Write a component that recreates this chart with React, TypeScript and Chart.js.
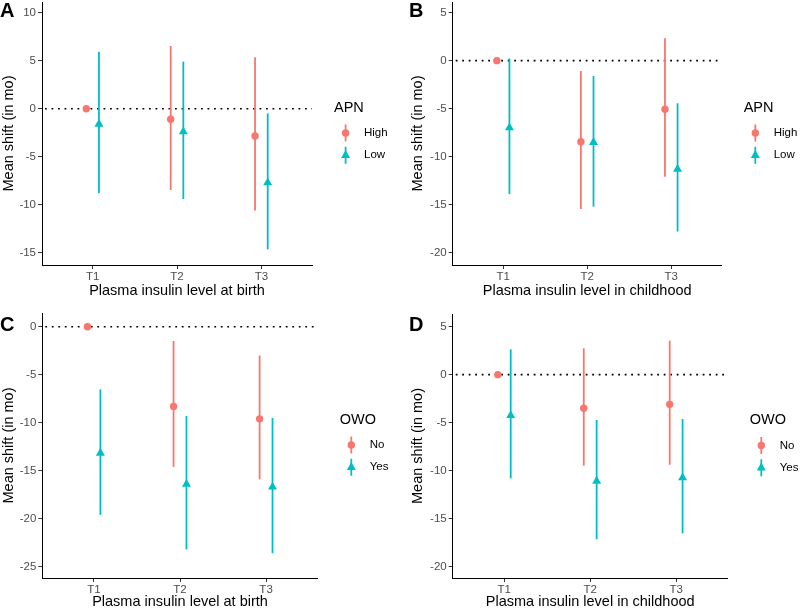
import React, { useEffect, useRef } from 'react';
import { Chart, registerables } from 'chart.js';

Chart.register(...registerables);

const FONT = "'Liberation Sans', Arial, Helvetica, sans-serif";

const categories = ['T1', 'T2', 'T3'];
const xTickValues = [1, 2, 3];
const dodge = [-0.075, 0.075];
const groupColors = ['#F8766D', '#00BFC4'];
const groupShapes = ['circle', 'triangle'];
const groupRadius = [3.7, 5.2];

// Panel A — APN, insulin at birth
const aGroups = ['High', 'Low'];
const aHighEst = [0, -1.1, -2.85];
const aHighLo = [0, -8.47, -10.6];
const aHighHi = [0, 6.53, 5.35];
const aLowEst = [-1.6, -2.4, -7.7];
const aLowLo = [-8.82, -9.41, -14.65];
const aLowHi = [5.94, 4.9, -0.49];
const aYTicks = [-15, -10, -5, 0, 5, 10];

// Panel B — APN, insulin in childhood
const bGroups = ['High', 'Low'];
const bHighEst = [0, -8.44, -5.05];
const bHighLo = [0, -15.45, -12.1];
const bHighHi = [0, -1.08, 2.33];
const bLowEst = [-6.98, -8.5, -11.3];
const bLowLo = [-13.9, -15.2, -17.8];
const bLowHi = [0.24, -1.6, -4.44];
const bYTicks = [-20, -15, -10, -5, 0, 5];

// Panel C — OWO, insulin at birth
const cGroups = ['No', 'Yes'];
const cNoEst = [0, -8.3, -9.6];
const cNoLo = [0, -14.6, -15.9];
const cNoHi = [0, -1.49, -3.0];
const cYesEst = [-13.16, -16.4, -16.7];
const cYesLo = [-19.6, -23.2, -23.6];
const cYesHi = [-6.53, -9.3, -9.5];
const cYTicks = [-25, -20, -15, -10, -5, 0];

// Panel D — OWO, insulin in childhood
const dGroups = ['No', 'Yes'];
const dNoEst = [0, -3.5, -3.09];
const dNoLo = [0, -9.48, -9.38];
const dNoHi = [0, 2.74, 3.54];
const dYesEst = [-4.24, -11.08, -10.73];
const dYesLo = [-10.8, -17.15, -16.53];
const dYesHi = [2.64, -4.72, -4.62];
const dYTicks = [-20, -15, -10, -5, 0, 5];

const yTitle = 'Mean shift (in mo)';

type Spec = {
  label: string;
  left: number; top: number; width: number; height: number;
  areaLeft: number; areaTop: number; areaRight: number; areaBottom: number;
  yMin: number; yMax: number; yTicks: number[];
  xTitle: string; legendTitle: string; groups: string[];
  est: number[][]; lo: number[][]; hi: number[][];
  labelY: number;
};

const panels: Spec[] = [
  {
    label: 'A', left: 0, top: 0, width: 400, height: 300,
    areaLeft: 42, areaTop: 2, areaRight: 312, areaBottom: 265,
    yMin: -16.28, yMax: 11.11, yTicks: aYTicks,
    xTitle: 'Plasma insulin level at birth', legendTitle: 'APN', groups: aGroups,
    est: [aHighEst, aLowEst], lo: [aHighLo, aLowLo], hi: [aHighHi, aLowHi], labelY: 17,
  },
  {
    label: 'B', left: 409, top: 0, width: 391, height: 300,
    areaLeft: 43.7, areaTop: 2, areaRight: 312.7, areaBottom: 265,
    yMin: -21.28, yMax: 6.11, yTicks: bYTicks,
    xTitle: 'Plasma insulin level in childhood', legendTitle: 'APN', groups: bGroups,
    est: [bHighEst, bLowEst], lo: [bHighLo, bLowLo], hi: [bHighHi, bLowHi], labelY: 17,
  },
  {
    label: 'C', left: 0, top: 311, width: 400, height: 300,
    areaLeft: 42.3, areaTop: 2, areaRight: 317.7, areaBottom: 267,
    yMin: -26.18, yMax: 1.43, yTicks: cYTicks,
    xTitle: 'Plasma insulin level at birth', legendTitle: 'OWO', groups: cGroups,
    est: [cNoEst, cYesEst], lo: [cNoLo, cYesLo], hi: [cNoHi, cYesHi], labelY: 20,
  },
  {
    label: 'D', left: 409, top: 311, width: 391, height: 300,
    areaLeft: 43.7, areaTop: 3, areaRight: 318.7, areaBottom: 267,
    yMin: -21.18, yMax: 6.32, yTicks: dYTicks,
    xTitle: 'Plasma insulin level in childhood', legendTitle: 'OWO', groups: dGroups,
    est: [dNoEst, dYesEst], lo: [dNoLo, dYesLo], hi: [dNoHi, dYesHi], labelY: 19.5,
  },
];

const decorPlugin = {
  id: 'decor',
  beforeDatasetsDraw(chart: any) {
    const { ctx, chartArea, scales } = chart;
    const x = scales.x, y = scales.y;
    ctx.save();
    const y0 = y.getPixelForValue(0);
    ctx.setLineDash([1.8, 4.7]);
    ctx.lineWidth = 1.6;
    ctx.strokeStyle = '#000';
    ctx.beginPath();
    ctx.moveTo(chartArea.left + 3, y0);
    ctx.lineTo(chartArea.right, y0);
    ctx.stroke();
    ctx.setLineDash([]);
    chart.data.datasets.forEach((ds: any) => {
      ctx.strokeStyle = ds.borderColor;
      ctx.lineWidth = 1.8;
      ds.data.forEach((p: any) => {
        if (p.lo === p.hi) return;
        const px = x.getPixelForValue(p.x);
        ctx.beginPath();
        ctx.moveTo(px, y.getPixelForValue(p.lo));
        ctx.lineTo(px, y.getPixelForValue(p.hi));
        ctx.stroke();
      });
    });
    ctx.restore();
  },
  afterDraw(chart: any, _args: any, opts: any) {
    const { ctx, chartArea } = chart;
    ctx.save();
    // panel label
    ctx.fillStyle = '#000';
    ctx.font = `bold 20px ${FONT}`;
    ctx.textAlign = 'left';
    ctx.textBaseline = 'alphabetic';
    ctx.fillText(opts.label, 0, opts.labelY);
    // legend
    const cy = (chartArea.top + chartArea.bottom) / 2;
    const r = chartArea.right;
    ctx.font = `14.5px ${FONT}`;
    ctx.textBaseline = 'middle';
    ctx.fillText(opts.legendTitle, r + 22, cy - 26);
    const offs = [-0.5, 21.8];
    chart.data.datasets.forEach((ds: any, i: number) => {
      const ky = cy + offs[i];
      const kx = r + 33.6;
      ctx.strokeStyle = ds.borderColor;
      ctx.lineWidth = 1.8;
      ctx.beginPath();
      ctx.moveTo(kx, ky - 8.5);
      ctx.lineTo(kx, ky + 8.5);
      ctx.stroke();
      ctx.fillStyle = ds.backgroundColor;
      ctx.beginPath();
      if (ds.pointStyle === 'circle') {
        ctx.arc(kx, ky, ds.pointRadius, 0, Math.PI * 2);
      } else {
        const rad = ds.pointRadius;
        for (let k = 0; k < 3; k++) {
          const a = (k * 2 * Math.PI) / 3;
          const px = kx + Math.sin(a) * rad;
          const py = ky - Math.cos(a) * rad;
          if (k === 0) ctx.moveTo(px, py); else ctx.lineTo(px, py);
        }
        ctx.closePath();
      }
      ctx.fill();
      ctx.fillStyle = '#000';
      ctx.font = `11.5px ${FONT}`;
      ctx.fillText(ds.label, r + 52, ky);
    });
    ctx.restore();
  },
};

function buildConfig(p: Spec): any {
  return {
    type: 'scatter',
    data: {
      datasets: p.groups.map((g, gi) => ({
        label: g,
        data: categories.map((_c, ci) => ({
          x: xTickValues[ci] + dodge[gi],
          y: p.est[gi][ci],
          lo: p.lo[gi][ci],
          hi: p.hi[gi][ci],
        })),
        pointStyle: groupShapes[gi],
        pointRadius: groupRadius[gi],
        pointBorderWidth: 0,
        backgroundColor: groupColors[gi],
        borderColor: groupColors[gi],
        showLine: false,
        clip: false,
      })),
    },
    options: {
      responsive: false,
      animation: false,
      events: [],
      layout: {
        autoPadding: false,
        padding: { left: 0, top: p.areaTop, right: p.width - p.areaRight, bottom: 0 },
      },
      plugins: {
        legend: { display: false },
        tooltip: { enabled: false },
        decor: { label: p.label, labelY: p.labelY, legendTitle: p.legendTitle },
      },
      scales: {
        x: {
          type: 'linear',
          min: 0.4,
          max: 3.6,
          afterBuildTicks: (s: any) => { s.ticks = xTickValues.map((v) => ({ value: v })); },
          afterFit: (s: any) => {
            s.height = p.height - p.areaBottom;
            s.paddingLeft = 0; s.paddingRight = 0; s.paddingTop = 0; s.paddingBottom = 0;
          },
          ticks: {
            callback: (v: number) => categories[xTickValues.indexOf(v)],
            color: '#4D4D4D',
            font: { size: 11.5, family: FONT },
            padding: 1,
            maxRotation: 0,
            autoSkip: false,
          },
          grid: { display: true, drawOnChartArea: false, drawTicks: true, tickLength: 4, color: '#333333', lineWidth: 1 },
          border: { display: true, color: '#000', width: 1 },
          title: { display: true, text: p.xTitle, color: '#000', font: { size: 14.5, family: FONT }, padding: 0 },
        },
        y: {
          type: 'linear',
          min: p.yMin,
          max: p.yMax,
          afterBuildTicks: (s: any) => { s.ticks = p.yTicks.map((v) => ({ value: v })); },
          afterFit: (s: any) => {
            s.width = p.areaLeft;
            s.paddingLeft = 0; s.paddingRight = 0; s.paddingTop = 0; s.paddingBottom = 0;
          },
          ticks: {
            color: '#4D4D4D',
            font: { size: 11.5, family: FONT },
            padding: 2,
          },
          grid: { display: true, drawOnChartArea: false, drawTicks: true, tickLength: 4, color: '#333333', lineWidth: 1 },
          border: { display: true, color: '#000', width: 1 },
          title: { display: true, text: yTitle, color: '#000', font: { size: 14.5, family: FONT }, padding: 0 },
        },
      },
    },
    plugins: [decorPlugin],
  };
}

function Panel({ spec }: { spec: Spec }) {
  const ref = useRef<HTMLCanvasElement | null>(null);
  useEffect(() => {
    if (!ref.current) return;
    const chart = new Chart(ref.current, buildConfig(spec));
    return () => chart.destroy();
  }, [spec]);
  return (
    <canvas
      ref={ref}
      width={spec.width}
      height={spec.height}
      style={{ position: 'absolute', left: spec.left, top: spec.top, width: spec.width, height: spec.height }}
    />
  );
}

export default function App() {
  return (
    <div style={{ position: 'fixed', left: 0, top: 0, width: 800, height: 611, background: '#fff', overflow: 'hidden' }}>
      {panels.map((p) => (
        <Panel key={p.label} spec={p} />
      ))}
    </div>
  );
}
